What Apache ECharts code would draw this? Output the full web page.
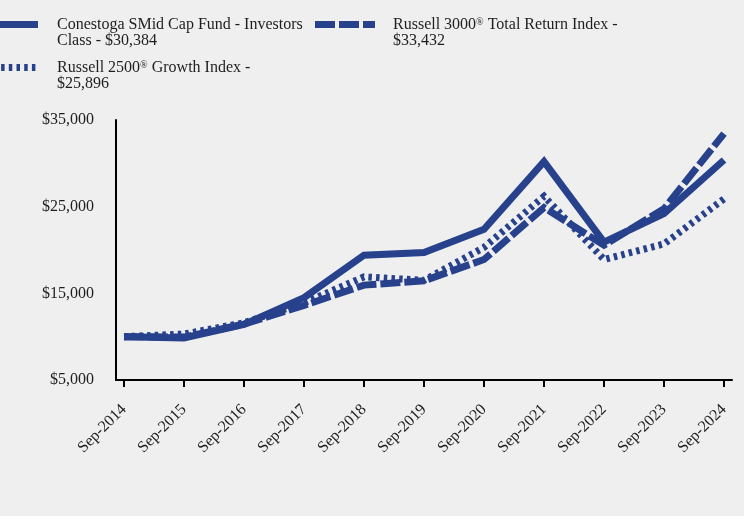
<!DOCTYPE html>
<html><head><meta charset="utf-8">
<script src="https://cdn.jsdelivr.net/npm/echarts@6/dist/echarts.min.js"></script>
<style>html,body{margin:0;padding:0;background:#efefef}#c{width:744px;height:516px}</style>
</head><body><div id="c"></div>
<script>
const categories = ['Sep-2014','Sep-2015','Sep-2016','Sep-2017','Sep-2018','Sep-2019','Sep-2020','Sep-2021','Sep-2022','Sep-2023','Sep-2024'];
const fundValues   = [10000, 9850, 11400, 14500, 19400, 19700, 22400, 30200, 20900, 24200, 30384];
const r3000Values  = [10000, 9950, 11450, 13600, 15950, 16450, 18900, 24900, 20550, 24750, 33432];
const r2500gValues = [10000, 10300, 11600, 13900, 16900, 16500, 20300, 26200, 18900, 20700, 25896];
const yTicks = [5000, 15000, 25000, 35000];
const legendLines = [
  ['{a|Conestoga SMid Cap Fund - Investors}', '{a|Class - $30,384}'],
  ['{a|Russell 3000}{s|®}{a| Total Return Index -}', '{a|$33,432}'],
  ['{a|Russell 2500}{s|®}{a| Growth Index -}', '{a|$25,896}']
];

const FONT = "'Liberation Serif','Times New Roman',serif";
const BLUE = '#27418c';
const TXT = '#1e1e1e';
const dashDash = [20, 4], dotDash = [3.5, 4.2];

const chart = echarts.init(document.getElementById('c'));
const toPairs = arr => arr.map((v, i) => [i, v]);
const idx = categories.map((c, i) => i);
const rich = {
  a: {fontSize: 16, fontFamily: FONT, lineHeight: 16, fill: TXT},
  s: {fontSize: 10, fontFamily: FONT, lineHeight: 10, fill: TXT, verticalAlign: 'top'}
};
function legendText(i, x, y) {
  return {type: 'text', x: x, y: y, silent: true,
    style: {text: legendLines[i].join('\n'), rich: rich, fontSize: 16, fontFamily: FONT, fill: TXT, lineHeight: 16, verticalAlign: 'top', align: 'left'}};
}
function legendIcon(x1, y, dash) {
  return {type: 'line', silent: true, shape: {x1: x1, y1: y, x2: x1 + 60, y2: y},
    style: {stroke: BLUE, lineWidth: 7, lineDash: dash, lineCap: 'butt'}};
}
const lineSeries = (name, arr, dash, z) => ({
  type: 'line', name: name, data: toPairs(arr), symbol: 'none', z: z,
  lineStyle: {color: BLUE, width: 7, type: dash ? dash : 'solid', cap: 'butt', join: 'miter'}
});

chart.setOption({
  animation: false,
  backgroundColor: '#efefef',
  grid: {left: 116, right: 12, top: 120, bottom: 136},
  xAxis: {
    type: 'value', min: -8 / 60, max: 10 + 8 / 60,
    splitLine: {show: false},
    axisLine: {show: true, onZero: false, lineStyle: {color: '#000', width: 2}},
    axisTick: {show: true, customValues: idx, length: 7, lineStyle: {color: '#000', width: 2}},
    axisLabel: {customValues: idx, formatter: v => categories[Math.round(v)], rotate: 45,
      fontSize: 16, fontFamily: FONT, color: TXT, margin: 27}
  },
  yAxis: {
    type: 'value', min: yTicks[0], max: yTicks[yTicks.length - 1], interval: yTicks[1] - yTicks[0],
    splitLine: {show: false},
    axisLine: {show: true, onZero: false, lineStyle: {color: '#000', width: 2}},
    axisTick: {show: false},
    axisLabel: {formatter: v => '$' + v.toLocaleString('en-US'), fontSize: 16, fontFamily: FONT, color: TXT, margin: 22}
  },
  series: [
    lineSeries('Russell 2500 Growth Index', r2500gValues, dotDash, 2),
    lineSeries('Russell 3000 Total Return Index', r3000Values, dashDash, 3),
    lineSeries('Conestoga SMid Cap Fund - Investors Class', fundValues, null, 4)
  ],
  graphic: [
    legendIcon(-22, 24.5, null), legendText(0, 57, 17),
    legendIcon(315, 24.5, dashDash), legendText(1, 393, 17),
    legendIcon(-22, 67.5, dotDash), legendText(2, 57, 60)
  ]
});
</script></body></html>
